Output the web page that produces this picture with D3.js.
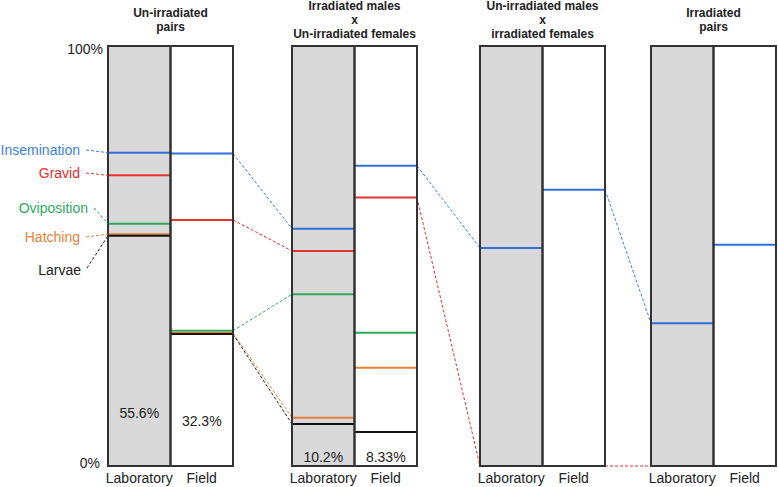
<!DOCTYPE html>
<html><head><meta charset="utf-8">
<script src="https://cdn.jsdelivr.net/npm/d3@7"></script>
<style>body{margin:0;background:#fff}svg{display:block;font-family:"Liberation Sans",Arial,sans-serif}</style>
</head><body><svg id="c" width="778" height="487"></svg>
<script>
// ---- data ----
const stages = ["Insemination","Gravid","Oviposition","Hatching","Larvae"];
const panels = ["p1","p2","p3","p4"];
const panelTitles = [
  ["Un-irradiated","pairs"],
  ["Irradiated males","x","Un-irradiated females"],
  ["Un-irradiated males","x","irradiated females"],
  ["Irradiated","pairs"]
];
const sites = ["Laboratory","Field"];
// percent of pairs reaching each stage (null = not reached / not shown)
const labValues = [
  [74.6, 69.2, 57.7, 55.2, 54.8],
  [56.5, 51.2, 40.9, 11.5, 10.0],
  [51.9, 0, null, null, null],
  [34.0, 0, null, null, null]
];
const fieldValues = [
  [74.4, 58.6, 32.2, 31.7, 31.4],
  [71.5, 63.9, 31.7, 23.4, 8.1],
  [65.8, 0, null, null, null],
  [52.7, 0, null, null, null]
];
const larvaeLabels = [["55.6%","32.3%"],["10.2%","8.33%"],[null,null],[null,null]];
const yTicks = [0, 100];

// ---- styles ----
const lineColors = ["#2f6fd8","#e03535","#2ea85c","#e5823a","#111111"];
const labelColors = ["#3a7fe0","#e53030","#30a860","#e5823a","#222222"];

const svg = d3.select("#c");
const y = d3.scaleLinear().domain([0,100]).range([466,46]);
const px = d3.scaleOrdinal().domain(panels).range([108,292,480,651]);
const bx = d3.scaleBand().domain(sites).range([0,125]);

// bars background
panels.forEach((p,i)=>{
  const g = svg.append("g").attr("transform",`translate(${px(p)},0)`);
  g.selectAll("rect.bg").data(sites).enter().append("rect")
    .attr("x",d=>bx(d)).attr("y",y(100)).attr("width",bx.bandwidth()).attr("height",y(0)-y(100))
    .attr("fill",d=>d==="Laboratory"?"#d9d9d9":"#ffffff");
});

// connectors
panels.forEach((p,i)=>{
  if(i===panels.length-1) return;
  const x1 = px(p)+bx("Field")+bx.bandwidth();
  const x2 = px(panels[i+1])+bx("Laboratory");
  stages.forEach((s,k)=>{
    const a = fieldValues[i][k], b = labValues[i+1][k];
    if(a==null||b==null) return;
    svg.append("line").attr("x1",x1).attr("y1",y(a)).attr("x2",x2).attr("y2",y(b))
      .attr("stroke",labelColors[k]).attr("stroke-width",1).attr("stroke-dasharray","3,2");
  });
});

// stage lines
panels.forEach((p,i)=>{
  const g = svg.append("g").attr("transform",`translate(${px(p)},0)`);
  [labValues[i],fieldValues[i]].forEach((vals,j)=>{
    const site = sites[j];
    stages.forEach((s,k)=>{
      const v = vals[k];
      if(v==null||v===0) return;
      g.append("line").attr("x1",bx(site)).attr("x2",bx(site)+bx.bandwidth())
        .attr("y1",y(v)).attr("y2",y(v)).attr("stroke",lineColors[k]).attr("stroke-width",2);
    });
  });
});

// bar borders, titles, labels
panels.forEach((p,i)=>{
  const g = svg.append("g").attr("transform",`translate(${px(p)},0)`);
  g.selectAll("rect.bd").data(sites).enter().append("rect")
    .attr("x",d=>bx(d)).attr("y",y(100)).attr("width",bx.bandwidth()).attr("height",y(0)-y(100))
    .attr("fill","none").attr("stroke","#333").attr("stroke-width",2);
  g.selectAll("text.cat").data(sites).enter().append("text")
    .attr("x",d=>bx(d)+bx.bandwidth()/2).attr("y",483).attr("text-anchor","middle")
    .attr("font-size",14).attr("fill","#222").text(d=>d);
  const t = panelTitles[i];
  const y0 = t.length===3 ? 10 : 17;
  g.selectAll("text.ttl").data(t).enter().append("text")
    .attr("x",62.5).attr("y",(d,n)=>y0+n*14).attr("text-anchor","middle")
    .attr("font-size",12).attr("font-weight","bold").attr("fill","#222").text(d=>d);
  larvaeLabels[i].forEach((lab,j)=>{
    if(!lab) return;
    const yy = [[12.6,10.8],[2.1,2.1]][i][j];
    g.append("text").attr("x",bx(sites[j])+bx.bandwidth()/2).attr("y",y(yy)+5)
      .attr("text-anchor","middle").attr("font-size",14).attr("fill","#222").text(lab);
  });
});

// y tick labels
svg.selectAll("text.yt").data(yTicks).enter().append("text")
  .attr("x",d=>d===100?103:100).attr("y",d=>y(d)+(d===100?8:2)).attr("text-anchor","end")
  .attr("font-size",14).attr("fill","#222").text(d=>d+"%");

// stage legend labels with leader lines
const labelPos = [[80,150],[80,173],[88,208],[80,237],[81,270]];
const leaderStart = [[86,150],[86,173],[94,208],[86,237],[87,268]];
stages.forEach((s,k)=>{
  svg.append("text").attr("x",labelPos[k][0]).attr("y",labelPos[k][1]+5).attr("text-anchor","end")
    .attr("font-size",14).attr("fill",labelColors[k]).text(s);
  svg.append("line").attr("x1",leaderStart[k][0]).attr("y1",leaderStart[k][1])
    .attr("x2",px("p1")).attr("y2",y(labValues[0][k]))
    .attr("stroke",labelColors[k]).attr("stroke-width",1).attr("stroke-dasharray","3,2");
});
</script></body></html>
